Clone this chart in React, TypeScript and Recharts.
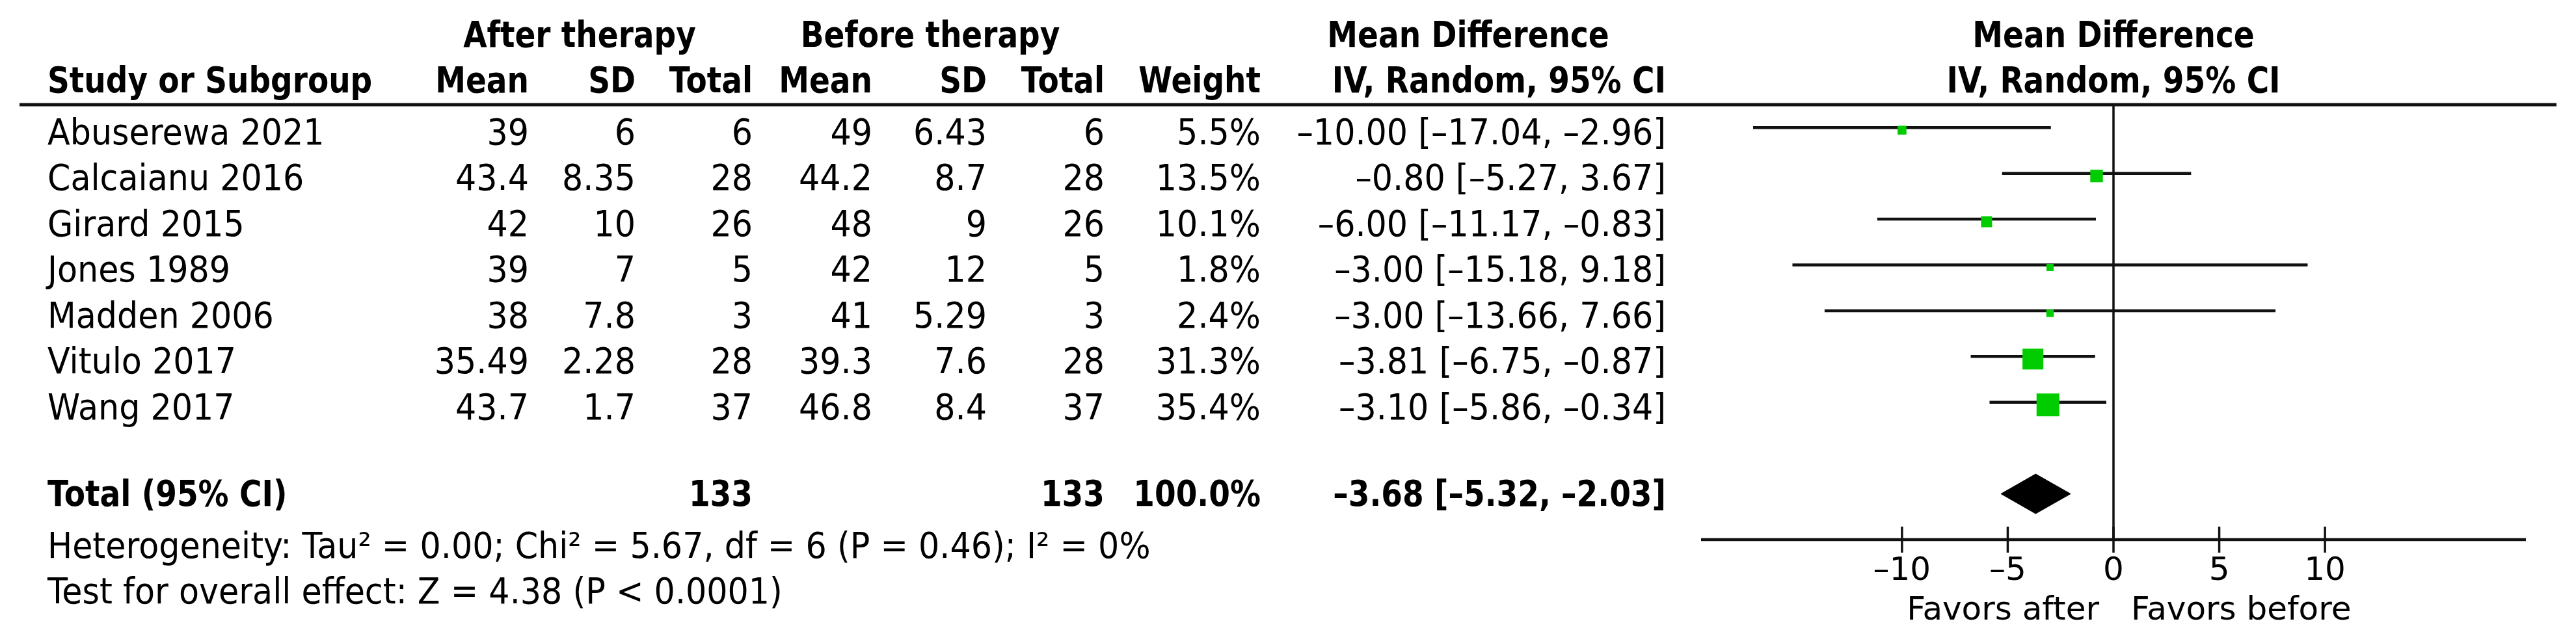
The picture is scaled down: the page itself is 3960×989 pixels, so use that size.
import React from 'react';
import { ComposedChart, Scatter, ErrorBar, Area, XAxis, YAxis, ReferenceLine } from 'recharts';

// ---------- data ----------
const studyNames = ['Abuserewa 2021', 'Calcaianu 2016', 'Girard 2015', 'Jones 1989', 'Madden 2006', 'Vitulo 2017', 'Wang 2017'];
const afterMean = [39, 43.4, 42, 39, 38, 35.49, 43.7];
const afterSD = [6, 8.35, 10, 7, 7.8, 2.28, 1.7];
const afterTotal = [6, 28, 26, 5, 3, 28, 37];
const beforeMean = [49, 44.2, 48, 42, 41, 39.3, 46.8];
const beforeSD = [6.43, 8.7, 9, 12, 5.29, 7.6, 8.4];
const beforeTotal = [6, 28, 26, 5, 3, 28, 37];
const weights = [5.5, 13.5, 10.1, 1.8, 2.4, 31.3, 35.4];
const meanDiff = [-10.0, -0.8, -6.0, -3.0, -3.0, -3.81, -3.1];
const ciLow = [-17.04, -5.27, -11.17, -15.18, -13.66, -6.75, -5.86];
const ciHigh = [-2.96, 3.67, -0.83, 9.18, 7.66, -0.87, -0.34];

const totalLabel = 'Total (95% CI)';
const totalAfter = 133;
const totalBefore = 133;
const totalWeight = 100.0;
const totalMD = -3.68;
const totalLow = -5.32;
const totalHigh = -2.03;
const totalRow = 8;

const heterogeneityText = 'Heterogeneity: Tau\u00B2 = 0.00; Chi\u00B2 = 5.67, df = 6 (P = 0.46); I\u00B2 = 0%';
const overallEffectText = 'Test for overall effect: Z = 4.38 (P < 0.0001)';
const xTicks = [-10, -5, 0, 5, 10];
const xDomain = [-19.5, 19.5];
const favorsLeft = 'Favors after';
const favorsRight = 'Favors before';

// ---------- layout / style ----------
const W = 3960;
const H = 989;
const FONT = "'DejaVu Sans', Verdana, sans-serif";
const FS = 50;
const ROW0 = 196;
const ROWSTEP = 70.42;
const rowY = (i: number) => ROW0 + i * ROWSTEP;
const GREEN = '#00cc00';
const INK = '#111';
const DASH = '\u2013';

const signed = (v: number, d: number) => (v < 0 ? DASH : '') + Math.abs(v).toFixed(d);
const ciText = (m: number, l: number, h: number) => `${signed(m, 2)} [${signed(l, 2)}, ${signed(h, 2)}]`;

const studyData = studyNames.map((name, i) => ({
  name,
  x: meanDiff[i],
  y: i,
  w: weights[i],
  err: [meanDiff[i] - ciLow[i], ciHigh[i] - meanDiff[i]],
}));

const DIAMOND_HALF = 0.433;
const diamondData = [
  { x: totalLow, band: [totalRow, totalRow] },
  { x: totalMD, band: [totalRow - DIAMOND_HALF, totalRow + DIAMOND_HALF] },
  { x: totalHigh, band: [totalRow, totalRow] },
];

const renderSquare = (props: any) => {
  const { cx, cy, payload } = props;
  if (cx == null || cy == null) return <g />;
  const s = 9.7 + 0.714 * payload.w;
  return <rect x={cx - s / 2} y={cy - s / 2 + 4} width={s} height={s} fill={GREEN} />;
};

const CrossTick = (props: any) => {
  const { x, y, payload } = props;
  return (
    <g>
      <line x1={x} x2={x} y1={y - 20} y2={y + 20} stroke={INK} strokeWidth={3.5} />
      <text x={x} y={y + 62} textAnchor="middle" fontFamily={FONT} fontSize={FS} fill="#000">
        {signed(payload.value, 0)}
      </text>
    </g>
  );
};

const T = (p: any) => {
  const sx = p.plain ? 1 : p.bold ? 0.94 : 1.015;
  const sy = p.plain ? 1 : 1.096;
  return (
    <text
      transform={`translate(${p.x},${p.y}) scale(${sx},${sy})`}
      textAnchor={p.anchor || 'start'}
      fontFamily={FONT}
      fontSize={FS}
      fontWeight={p.bold ? 'bold' : 'normal'}
      fill="#000"
    >
      {p.children}
    </text>
  );
};

// column right edges
const COL = {
  name: 73,
  aMean: 813,
  aSD: 977,
  aTot: 1157,
  bMean: 1341,
  bSD: 1517,
  bTot: 1698,
  weight: 1938,
  ci: 2561,
};

export default function App() {
  return (
    <div style={{ position: 'absolute', left: 0, top: 0, width: W, height: H, background: '#fff', overflow: 'hidden' }}>
      <div style={{ position: 'absolute', left: 0, top: 0 }}>
        <ComposedChart width={W} height={H} margin={{ top: 161, right: 77, bottom: 59, left: 2615 }}>
          <XAxis
            type="number"
            dataKey="x"
            domain={xDomain}
            ticks={xTicks}
            interval={0}
            height={100}
            tickSize={0}
            tickMargin={0}
            tickLine={false}
            axisLine={{ stroke: INK, strokeWidth: 4.5 }}
            tick={<CrossTick />}
            allowDataOverflow
          />
          <YAxis type="number" dataKey="y" domain={[-0.5, 9]} reversed hide width={0} allowDataOverflow />
          <ReferenceLine x={0} stroke={INK} strokeWidth={3.5} />
          <Scatter data={studyData} isAnimationActive={false} shape={renderSquare}>
            <ErrorBar dataKey="err" direction="x" width={0} stroke={INK} strokeWidth={4.5} />
          </Scatter>
          <Area
            data={diamondData}
            dataKey="band"
            type="linear"
            stroke="#000"
            strokeWidth={1}
            fill="#000"
            fillOpacity={1}
            dot={false}
            activeDot={false}
            isAnimationActive={false}
          />
        </ComposedChart>
      </div>
      <svg width={W} height={H} style={{ position: 'absolute', left: 0, top: 0, pointerEvents: 'none' }}>
        {/* group headers */}
        <T x={891} y={72} anchor="middle" bold>After therapy</T>
        <T x={1430} y={72} anchor="middle" bold>Before therapy</T>
        <T x={2257} y={72} anchor="middle" bold>Mean Difference</T>
        <T x={3249} y={72} anchor="middle" bold>Mean Difference</T>
        {/* column headers */}
        <T x={COL.name} y={142} bold>Study or Subgroup</T>
        <T x={COL.aMean} y={142} anchor="end" bold>Mean</T>
        <T x={COL.aSD} y={142} anchor="end" bold>SD</T>
        <T x={COL.aTot} y={142} anchor="end" bold>Total</T>
        <T x={COL.bMean} y={142} anchor="end" bold>Mean</T>
        <T x={COL.bSD} y={142} anchor="end" bold>SD</T>
        <T x={COL.bTot} y={142} anchor="end" bold>Total</T>
        <T x={COL.weight} y={142} anchor="end" bold>Weight</T>
        <T x={COL.ci} y={142} anchor="end" bold>IV, Random, 95% CI</T>
        <T x={3249} y={142} anchor="middle" bold>IV, Random, 95% CI</T>
        <line x1={30} x2={3930} y1={161} y2={161} stroke={INK} strokeWidth={5} />
        {/* study rows */}
        {studyNames.map((n, i) => {
          const by = rowY(i) + 26;
          return (
            <g key={n}>
              <T x={COL.name} y={by}>{n}</T>
              <T x={COL.aMean} y={by} anchor="end">{String(afterMean[i])}</T>
              <T x={COL.aSD} y={by} anchor="end">{String(afterSD[i])}</T>
              <T x={COL.aTot} y={by} anchor="end">{String(afterTotal[i])}</T>
              <T x={COL.bMean} y={by} anchor="end">{String(beforeMean[i])}</T>
              <T x={COL.bSD} y={by} anchor="end">{String(beforeSD[i])}</T>
              <T x={COL.bTot} y={by} anchor="end">{String(beforeTotal[i])}</T>
              <T x={COL.weight} y={by} anchor="end">{`${weights[i].toFixed(1)}%`}</T>
              <T x={COL.ci} y={by} anchor="end">{ciText(meanDiff[i], ciLow[i], ciHigh[i])}</T>
            </g>
          );
        })}
        {/* total row */}
        <T x={COL.name} y={777.5} bold>{totalLabel}</T>
        <T x={COL.aTot} y={777.5} anchor="end" bold>{String(totalAfter)}</T>
        <T x={COL.bTot} y={777.5} anchor="end" bold>{String(totalBefore)}</T>
        <T x={COL.weight} y={777.5} anchor="end" bold>{`${totalWeight.toFixed(1)}%`}</T>
        <T x={COL.ci} y={777.5} anchor="end" bold>{ciText(totalMD, totalLow, totalHigh)}</T>
        {/* footnotes */}
        <T x={COL.name} y={858}>{heterogeneityText}</T>
        <T x={COL.name} y={928}>{overallEffectText}</T>
        {/* favours labels */}
        <T x={3227} y={953} anchor="end" plain>{favorsLeft}</T>
        <T x={3276} y={953} plain>{favorsRight}</T>
      </svg>
    </div>
  );
}
